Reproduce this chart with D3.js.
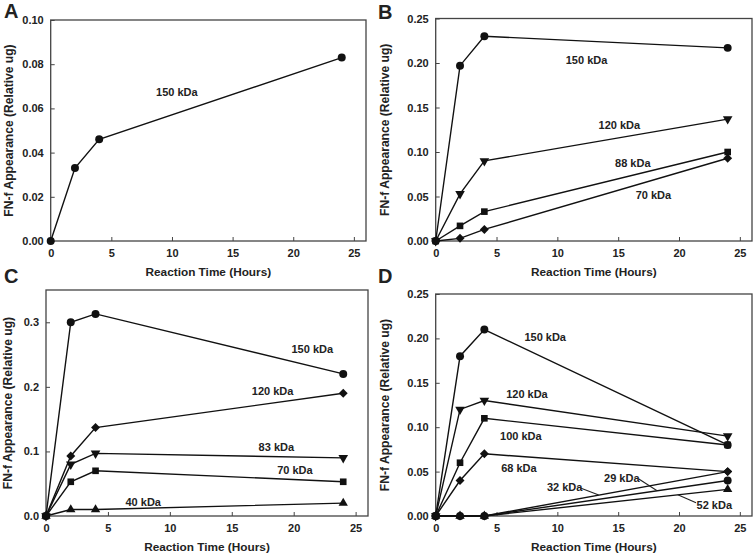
<!DOCTYPE html>
<html><head><meta charset="utf-8">
<script src="https://cdn.jsdelivr.net/npm/d3@7"></script>
<style>
html,body{margin:0;padding:0;background:#fff;}
svg{display:block;}
text{font-family:"Liberation Sans",Arial,sans-serif;font-weight:bold;fill:#222;}
</style></head><body>
<svg id="chart" width="754" height="555"></svg>
<script>
// ---------- data ----------
const hours = [0, 2, 4, 24];
const xTicks = [0, 5, 10, 15, 20, 25];

// Panel A
const aNames = ["150 kDa"];
const aSymbols = ["circle"];
const aValues = [[0, 0.033, 0.046, 0.083]];
const aYTicks = [0, 0.02, 0.04, 0.06, 0.08, 0.10];
const aLabelPos = [[10.4, 0.0674]];

// Panel B
const bNames = ["150 kDa", "120 kDa", "88 kDa", "70 kDa"];
const bSymbols = ["circle", "triDown", "square", "diamond"];
const bValues = [
  [0, 0.197, 0.230, 0.217],
  [0, 0.053, 0.090, 0.137],
  [0, 0.017, 0.033, 0.100],
  [0, 0.003, 0.013, 0.093]
];
const bYTicks = [0, 0.05, 0.10, 0.15, 0.20, 0.25];
const bLabelPos = [[12.4, 0.203], [15.1, 0.130], [16.2, 0.0876], [17.9, 0.0516]];

// Panel C
const cNames = ["150 kDa", "120 kDa", "83 kDa", "70 kDa", "40 kDa"];
const cSymbols = ["circle", "diamond", "triDown", "square", "triUp"];
const cValues = [
  [0, 0.300, 0.313, 0.220],
  [0, 0.093, 0.137, 0.190],
  [0, 0.080, 0.097, 0.090],
  [0, 0.053, 0.070, 0.053],
  [0, 0.010, 0.010, 0.020]
];
const cYTicks = [0, 0.1, 0.2, 0.3];
const cLabelPos = [[21.5, 0.258], [18.3, 0.194], [18.6, 0.106], [20.1, 0.0715], [7.85, 0.0218]];

// Panel D
const dNames = ["150 kDa", "120 kDa", "100 kDa", "68 kDa", "32 kDa", "29 kDa", "52 kDa"];
const dSymbols = ["circle", "triDown", "square", "diamond", "diamond", "circle", "triUp"];
const dValues = [
  [0, 0.180, 0.210, 0.080],
  [0, 0.120, 0.130, 0.090],
  [0, 0.060, 0.110, 0.080],
  [0, 0.040, 0.070, 0.050],
  [0, 0, 0, 0.050],
  [0, 0, 0, 0.040],
  [0, 0, 0, 0.030]
];
const dYTicks = [0, 0.05, 0.10, 0.15, 0.20, 0.25];
const dLabelPos = [[9.0, 0.2016], [7.5, 0.137], [7.0, 0.090], [6.84, 0.054], [10.6, 0.0327], [15.3, 0.0428], [22.9, 0.0124]];
// leader lines for D labels: [x1,y1,x2,y2] in data units (null = none)
const dLeaders = [null, null, null, null, [11.9, 0.0315, 13.4, 0.0236], [16.7, 0.0417, 18.2, 0.0284], [21.4, 0.0150, 19.9, 0.0239]];

const xTitle = "Reaction Time (Hours)";
const yTitle = "FN-f Appearance (Relative ug)";

// ---------- drawing ----------
const svg = d3.select("#chart");
svg.append("rect").attr("width", 754).attr("height", 555).attr("fill", "#fff");

function symbolPath(kind) {
  switch (kind) {
    case "circle": return {p: d3.symbol(d3.symbolCircle, 50)(), r: 0};
    case "square": return {p: d3.symbol(d3.symbolSquare, 44)(), r: 0};
    case "diamond": return {p: d3.symbol(d3.symbolSquare, 40)(), r: 45};
    case "triUp": return {p: d3.symbol(d3.symbolTriangle, 38)(), r: 0};
    case "triDown": return {p: d3.symbol(d3.symbolTriangle, 40)(), r: 180};
  }
}

function panel(cfg) {
  const g = svg.append("g");
  const x = d3.scaleLinear().domain([0, 26]).range([cfg.left, cfg.right]);
  const y = d3.scaleLinear().domain([0, cfg.yMax]).range([cfg.bottom, cfg.top]);

  const xa = g.append("g").attr("transform", `translate(0,${cfg.bottom})`)
    .call(d3.axisBottom(x).tickValues(xTicks).tickSizeInner(-4).tickSizeOuter(0).tickPadding(8).tickFormat(d3.format("d")));
  const ya = g.append("g").attr("transform", `translate(${cfg.left},0)`)
    .call(d3.axisLeft(y).tickValues(cfg.yTicks).tickSizeInner(-4).tickSizeOuter(0).tickPadding(7).tickFormat(d3.format(cfg.fmt)));
  [xa, ya].forEach(a => {
    a.select(".domain").remove();
    a.selectAll(".tick line").attr("stroke", "#444").attr("stroke-width", 1);
    a.selectAll(".tick text").attr("font-size", 11).attr("fill", "#222")
      .attr("font-family", '"Liberation Sans",Arial,sans-serif').attr("font-weight", "bold");
  });

  g.append("rect").attr("x", cfg.left).attr("y", cfg.top)
    .attr("width", cfg.right - cfg.left).attr("height", cfg.bottom - cfg.top)
    .attr("fill", "none").attr("stroke", "#444").attr("stroke-width", 1.3);

  const line = d3.line().x((d, i) => x(hours[i])).y(d => y(d));
  cfg.values.forEach((vals, si) => {
    g.append("path").datum(vals).attr("d", line)
      .attr("fill", "none").attr("stroke", "#111").attr("stroke-width", 1.4);
  });
  cfg.values.forEach((vals, si) => {
    const s = symbolPath(cfg.symbols[si]);
    g.selectAll(null).data(vals).enter().append("path")
      .attr("d", s.p)
      .attr("transform", (d, i) => `translate(${x(hours[i])},${y(d)}) rotate(${s.r})`)
      .attr("fill", "#111");
  });
  cfg.names.forEach((n, i) => {
    const p = cfg.labelPos[i];
    g.append("text").attr("x", x(p[0])).attr("y", y(p[1])).attr("dy", "0.35em")
      .attr("text-anchor", "middle").attr("font-size", 11).text(n);
    if (cfg.leaders && cfg.leaders[i]) {
      const l = cfg.leaders[i];
      g.append("line").attr("x1", x(l[0])).attr("y1", y(l[1])).attr("x2", x(l[2])).attr("y2", y(l[3]))
        .attr("stroke", "#222").attr("stroke-width", 1.1);
    }
  });

  g.append("text").attr("x", (cfg.left + cfg.right) / 2).attr("y", cfg.bottom + 35)
    .attr("text-anchor", "middle").attr("font-size", 11.8).text(xTitle);
  g.append("text")
    .attr("transform", `translate(${cfg.ytx},${(cfg.top + cfg.bottom) / 2}) rotate(-90)`)
    .attr("text-anchor", "middle").attr("dy", "0.35em").attr("font-size", 12.1).text(yTitle);
  g.append("text").attr("x", cfg.lx).attr("y", cfg.ly).attr("font-size", 20).text(cfg.letter);
}

panel({letter: "A", lx: 4, ly: 18, left: 50.7, right: 366, top: 20, bottom: 241, ytx: 9, yMax: 0.1,
  yTicks: aYTicks, fmt: ".2f", names: aNames, symbols: aSymbols, values: aValues, labelPos: aLabelPos});
panel({letter: "B", lx: 378, ly: 19, left: 435.7, right: 752, top: 18.5, bottom: 241, ytx: 385, yMax: 0.25,
  yTicks: bYTicks, fmt: ".2f", names: bNames, symbols: bSymbols, values: bValues, labelPos: bLabelPos});
panel({letter: "C", lx: 4, ly: 283, left: 46, right: 368, top: 290, bottom: 516, ytx: 8, yMax: 0.35,
  yTicks: cYTicks, fmt: ".1f", names: cNames, symbols: cSymbols, values: cValues, labelPos: cLabelPos});
panel({letter: "D", lx: 378, ly: 283, left: 435.7, right: 752, top: 294, bottom: 516, ytx: 385, yMax: 0.25,
  yTicks: dYTicks, fmt: ".2f", names: dNames, symbols: dSymbols, values: dValues, labelPos: dLabelPos, leaders: dLeaders});
</script>
</body></html>
